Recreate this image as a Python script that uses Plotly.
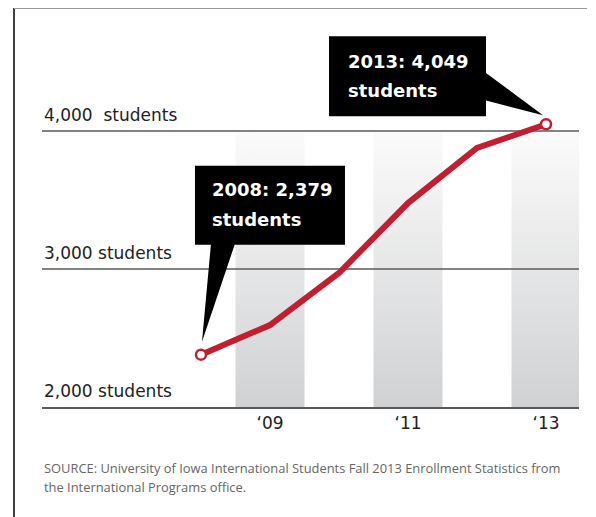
import plotly.graph_objects as go

# ---- data ----
years = [2008, 2009, 2010, 2011, 2012, 2013]
students = [2379, 2594, 2971, 3478, 3877, 4049]
shaded_years = [2009, 2011, 2013]
xtick_vals = [2009, 2011, 2013]
xtick_text = ["\u201809", "\u201811", "\u201813"]
ygrid_vals = [3000, 4000]
ylabel_vals = [4000, 3000, 2000]
ylabel_text = ["4,000  students", "3,000 students", "2,000 students"]
callout_lines = [["2008: 2,379", "students"], ["2013: 4,049", "students"]]
source_lines = [
    "SOURCE: University of Iowa International Students Fall 2013 Enrollment Statistics from",
    "the International Programs office.",
]

RED = "#c11f2f"
X_RANGE = [2005.696, 2013.478]
Y_RANGE = [2000, 4891.3]

fig = go.Figure()

# shaded gradient columns
for yr in shaded_years:
    fig.add_trace(go.Scatter(
        x=[yr - 0.5, yr + 0.5, yr + 0.5, yr - 0.5, yr - 0.5],
        y=[ylabel_vals[-1], ylabel_vals[-1], ylabel_vals[0], ylabel_vals[0], ylabel_vals[-1]],
        mode="lines", line=dict(width=0), fill="toself",
        fillgradient=dict(type="vertical",
                          colorscale=[[0, "#d0d1d3"], [1, "#fbfbfb"]]),
        hoverinfo="skip", showlegend=False,
    ))

# gridlines (drawn as traces so they sit over the columns)
for v in ygrid_vals:
    fig.add_trace(go.Scatter(
        x=X_RANGE, y=[v, v], mode="lines",
        line=dict(color="#5a5a5a", width=1.6),
        hoverinfo="skip", showlegend=False,
    ))

# main line
fig.add_trace(go.Scatter(
    x=years, y=students, mode="lines",
    line=dict(color=RED, width=6),
    showlegend=False,
))
# end markers
fig.add_trace(go.Scatter(
    x=[years[0], years[-1]], y=[students[0], students[-1]], mode="markers",
    marker=dict(size=10, color="white", line=dict(color=RED, width=2.5)),
    showlegend=False,
))

shapes = []
annotations = []

# callout 1 (2008)
shapes.append(dict(type="rect", xref="x", yref="y", xsizemode="pixel", ysizemode="pixel",
                   xanchor=years[0], yanchor=students[0], x0=-6, x1=144, y0=110, y1=189,
                   fillcolor="black", line=dict(width=0)))
shapes.append(dict(type="path", xref="x", yref="y", xsizemode="pixel", ysizemode="pixel",
                   xanchor=years[0], yanchor=students[0],
                   path="M 10,111 L 34,111 L 1,13 Z",
                   fillcolor="black", line=dict(width=0)))
# callout 2 (2013)
shapes.append(dict(type="rect", xref="x", yref="y", xsizemode="pixel", ysizemode="pixel",
                   xanchor=years[-1], yanchor=students[-1], x0=-217, x1=-60, y0=8, y1=88,
                   fillcolor="black", line=dict(width=0)))
shapes.append(dict(type="path", xref="x", yref="y", xsizemode="pixel", ysizemode="pixel",
                   xanchor=years[-1], yanchor=students[-1],
                   path="M -61,52 L -61,24 L -3,9 Z",
                   fillcolor="black", line=dict(width=0)))

cfont = dict(family="DejaVu Sans", size=18, color="white", weight="bold")
for (lines, xv, yv, xs, ys) in [
    (callout_lines[0], years[0], students[0], 9, [165, 135]),
    (callout_lines[1], years[-1], students[-1], -200, [63, 34]),
]:
    for line_txt, yshift in zip(lines, ys):
        annotations.append(dict(text=line_txt, x=xv, y=yv, xref="x", yref="y",
                                xanchor="left", yanchor="middle", xshift=xs, yshift=yshift,
                                showarrow=False, font=cfont))

# y labels above gridlines
for v, t in zip(ylabel_vals, ylabel_text):
    annotations.append(dict(text=t, x=0, y=v, xref="paper", yref="y",
                            xanchor="left", yanchor="middle", xshift=0, yshift=16,
                            showarrow=False,
                            font=dict(family="DejaVu Sans", size=17, color="#222")))

# source
for i, t in enumerate(source_lines):
    annotations.append(dict(text=t, x=0, y=(407 - (468 + 19 * i)) / 399,
                            xref="paper", yref="paper", xanchor="left", yanchor="middle",
                            xshift=0, showarrow=False,
                            font=dict(family="Open Sans", size=12.9, color="#666")))

# border lines (left black, top gray)
shapes.append(dict(type="line", xref="paper", yref="paper",
                   x0=(14 - 42) / 537, x1=(14 - 42) / 537, y0=(407 - 520) / 399, y1=1,
                   line=dict(color="black", width=1.5)))
shapes.append(dict(type="line", xref="paper", yref="paper",
                   x0=(14 - 42) / 537, x1=(587 - 42) / 537, y0=1, y1=1,
                   line=dict(color="#9a9a9a", width=2)))

fig.update_layout(
    width=588, height=509,
    margin=dict(l=34, r=17, t=0, b=110),
    paper_bgcolor="white", plot_bgcolor="white",
    showlegend=False,
    shapes=shapes, annotations=annotations,
    xaxis=dict(range=X_RANGE, tickvals=xtick_vals, ticktext=xtick_text,
               showgrid=False, zeroline=False, ticks="",
               showline=True, linecolor="#5a5a5a", linewidth=1.6,
               tickfont=dict(family="DejaVu Sans", size=17, color="#222")),
    yaxis=dict(range=Y_RANGE, showgrid=False, zeroline=False,
               showticklabels=False, ticks="", showline=False),
)

fig.write_html("out.html")
